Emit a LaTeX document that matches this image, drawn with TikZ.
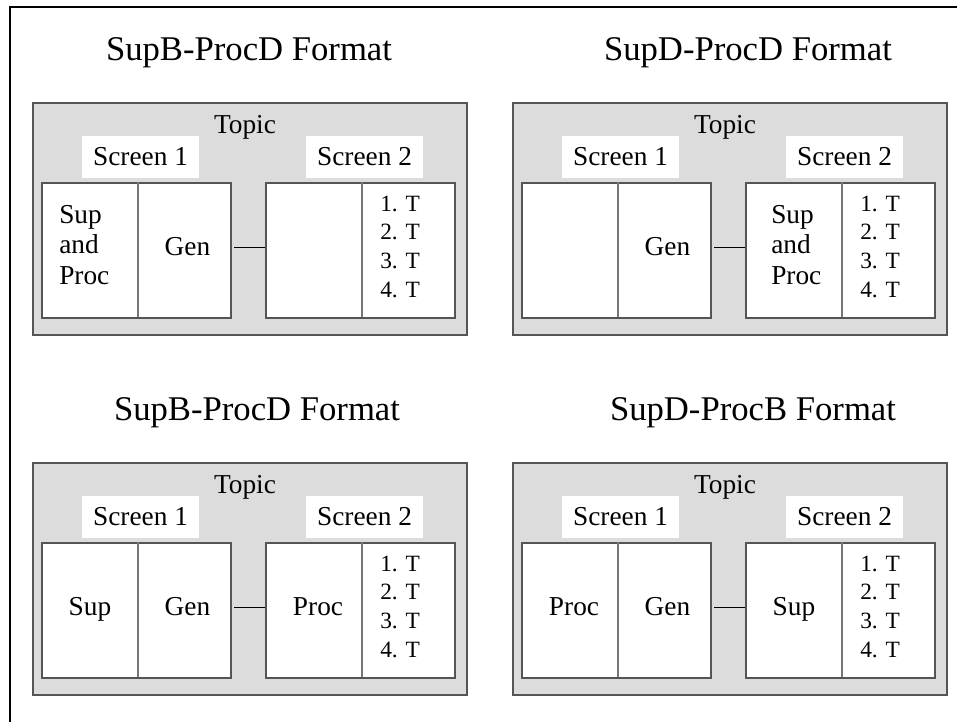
\documentclass[tikz,border=0pt]{standalone}
\usepackage{fontspec}
\setmainfont{Liberation Serif}
\usepackage{tikz}
\usetikzlibrary{positioning}

\definecolor{panelgray}{HTML}{DCDCDC}
\definecolor{edgegray}{HTML}{555555}
\definecolor{splitgray}{HTML}{777777}

\tikzset{
	panel/.style = {draw = edgegray, fill = panelgray, line width = 0.8pt},
	screen/.style = {draw = edgegray, fill = white, line width = 0.8pt, minimum width = 141.75pt, minimum height = 101.25pt, inner sep = 0pt},
	split/.style = {draw = splitgray, line width = 0.8pt},
	link/.style = {draw, line width = 0.75pt},
	tag/.style = {fill = white, minimum width = 87.75pt, minimum height = 31.5pt, inner sep = 0pt, font = \fontsize{20.5}{24}\selectfont},
	heading/.style = {anchor = base, inner sep = 0pt, font = \fontsize{26}{31}\selectfont},
	word/.style = {anchor = base, inner sep = 0pt, font = \fontsize{20.5}{23}\selectfont},
	stack/.style = {inner sep = 0pt, align = left, anchor = west, font = \fontsize{20.5}{23}\selectfont},
	tlist/.style = {inner sep = 0pt, align = left, anchor = west, font = \fontsize{17.5}{21.5}\selectfont}
}

\begin{document}
\begin{tikzpicture}[x = 0.75pt, y = -0.75pt]
		\useasboundingbox (0, 0) rectangle (957, 722);
		\draw[line width = 1.5pt] (957, 6.5) -- (9.5, 6.5) -- (9.5, 722);

		% top left
		\begin{scope}[shift = {(33, 103)}]
		\path[panel] (0, 0) rectangle (434, 232);
		\node[heading] (p1title) at (216, -43) {SupB-ProcD Format};
		\node[word] (p1topic) at (212, 30) {Topic};
		\node[tag] (p1tag1) at (107.5, 54) {Screen 1};
		\node[tag] (p1tag2) at (331.5, 54) {Screen 2};
		\node[screen] (p1s1) at (103.5, 147.5) {};
		\node[screen] (p1s2) at (327.5, 147.5) {};
		\path[split] ([xshift = 1.1pt]p1s1.north) -- ([xshift = 1.1pt, yshift = 1.5pt]p1s1.south);
		\path[split] ([xshift = 1.1pt]p1s2.north) -- ([xshift = 1.1pt, yshift = 1.5pt]p1s2.south);
		\path[link] ([xshift = 2pt, yshift = 2.6pt]p1s1.east) -- ([yshift = 2.6pt]p1s2.west);
		\node[stack] (p1left) at (26, 142) {Sup\\and\\Proc};
		\node[word] (p1gen) at (154.5, 152) {Gen};
		\node[tlist] (p1list) at (347, 143.5) {1. T\\2. T\\3. T\\4. T};
		\end{scope}

		% top right
		\begin{scope}[shift = {(513, 103)}]
		\path[panel] (0, 0) rectangle (434, 232);
		\node[heading] (p2title) at (235, -43) {SupD-ProcD Format};
		\node[word] (p2topic) at (212, 30) {Topic};
		\node[tag] (p2tag1) at (107.5, 54) {Screen 1};
		\node[tag] (p2tag2) at (331.5, 54) {Screen 2};
		\node[screen] (p2s1) at (103.5, 147.5) {};
		\node[screen] (p2s2) at (327.5, 147.5) {};
		\path[split] ([xshift = 1.1pt]p2s1.north) -- ([xshift = 1.1pt, yshift = 1.5pt]p2s1.south);
		\path[split] ([xshift = 1.1pt]p2s2.north) -- ([xshift = 1.1pt, yshift = 1.5pt]p2s2.south);
		\path[link] ([xshift = 2pt, yshift = 2.6pt]p2s1.east) -- ([yshift = 2.6pt]p2s2.west);
		\node[word] (p2gen) at (154.5, 152) {Gen};
		\node[stack] (p2right) at (258, 142) {Sup\\and\\Proc};
		\node[tlist] (p2list) at (347, 143.5) {1. T\\2. T\\3. T\\4. T};
		\end{scope}

		% bottom left
		\begin{scope}[shift = {(33, 463)}]
		\path[panel] (0, 0) rectangle (434, 232);
		\node[heading] (p3title) at (224, -43) {SupB-ProcD Format};
		\node[word] (p3topic) at (212, 30) {Topic};
		\node[tag] (p3tag1) at (107.5, 54) {Screen 1};
		\node[tag] (p3tag2) at (331.5, 54) {Screen 2};
		\node[screen] (p3s1) at (103.5, 147.5) {};
		\node[screen] (p3s2) at (327.5, 147.5) {};
		\path[split] ([xshift = 1.1pt]p3s1.north) -- ([xshift = 1.1pt, yshift = 1.5pt]p3s1.south);
		\path[split] ([xshift = 1.1pt]p3s2.north) -- ([xshift = 1.1pt, yshift = 1.5pt]p3s2.south);
		\path[link] ([xshift = 2pt, yshift = 2.6pt]p3s1.east) -- ([yshift = 2.6pt]p3s2.west);
		\node[word] (p3sup) at (57, 152) {Sup};
		\node[word] (p3gen) at (154.5, 152) {Gen};
		\node[word] (p3proc) at (285, 152) {Proc};
		\node[tlist] (p3list) at (347, 143.5) {1. T\\2. T\\3. T\\4. T};
		\end{scope}

		% bottom right
		\begin{scope}[shift = {(513, 463)}]
		\path[panel] (0, 0) rectangle (434, 232);
		\node[heading] (p4title) at (240, -43) {SupD-ProcB Format};
		\node[word] (p4topic) at (212, 30) {Topic};
		\node[tag] (p4tag1) at (107.5, 54) {Screen 1};
		\node[tag] (p4tag2) at (331.5, 54) {Screen 2};
		\node[screen] (p4s1) at (103.5, 147.5) {};
		\node[screen] (p4s2) at (327.5, 147.5) {};
		\path[split] ([xshift = 1.1pt]p4s1.north) -- ([xshift = 1.1pt, yshift = 1.5pt]p4s1.south);
		\path[split] ([xshift = 1.1pt]p4s2.north) -- ([xshift = 1.1pt, yshift = 1.5pt]p4s2.south);
		\path[link] ([xshift = 2pt, yshift = 2.6pt]p4s1.east) -- ([yshift = 2.6pt]p4s2.west);
		\node[word] (p4proc) at (61, 152) {Proc};
		\node[word] (p4gen) at (154.5, 152) {Gen};
		\node[word] (p4sup) at (281, 152) {Sup};
		\node[tlist] (p4list) at (347, 143.5) {1. T\\2. T\\3. T\\4. T};
		\end{scope}
\end{tikzpicture}
\end{document}
